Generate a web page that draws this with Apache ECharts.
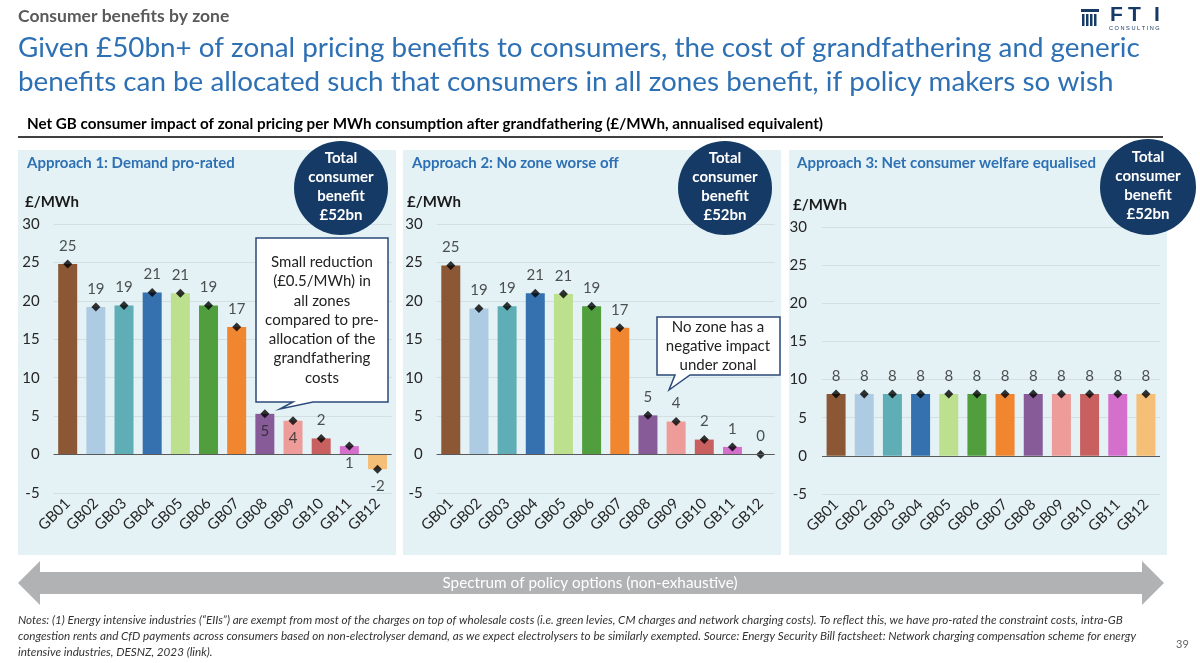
<!DOCTYPE html>
<html>
<head>
    <meta charset="utf-8">
    <title>Consumer benefits by zone</title>
    <script type="text/javascript" src="https://cdn.jsdelivr.net/npm/echarts@6/dist/echarts.min.js"></script>
    <style>
        html, body { margin: 0; padding: 0; background: #fff; }
        #main { width: 1200px; height: 663px; }
    </style>
</head>
<body>
<div id="main"></div>
<script type="text/javascript">
// zones and values (£/MWh)
var zones = ['GB01', 'GB02', 'GB03', 'GB04', 'GB05', 'GB06', 'GB07', 'GB08', 'GB09', 'GB10', 'GB11', 'GB12'];
var demandProRated = [24.8, 19.2, 19.4, 21.1, 21.0, 19.4, 16.6, 5.3, 4.4, 2.1, 1.1, -1.9];
var noZoneWorseOff = [24.6, 19.0, 19.3, 21.0, 20.9, 19.3, 16.5, 5.1, 4.3, 1.95, 1.0, 0.0];
var welfareEqualised = [8.1, 8.1, 8.1, 8.1, 8.1, 8.1, 8.1, 8.1, 8.1, 8.1, 8.1, 8.1];
var yTicks = { min: -5, max: 30, interval: 5 };
var panelTitles = ['Approach 1: Demand pro-rated', 'Approach 2: No zone worse off', 'Approach 3: Net consumer welfare equalised'];

var zoneColors = ['#8B5734', '#AECBE4', '#5FAEB5', '#3571AE', '#BCE08E', '#509E3D',
                  '#F08630', '#875B98', '#EE9C9A', '#C96060', '#D56FCC', '#F5BF78'];
var font = 'Lato, "Open Sans", sans-serif';
var navy = '#163A66';
var blue = '#2E70B4';

var panels = [
    { values: demandProRated, below: [7, 8, 10, 11], grid: { left: 53.6, top: 224, width: 338, height: 269 }, labelMargin: 14 },
    { values: noZoneWorseOff, below: [], grid: { left: 436.7, top: 224, width: 338, height: 269 }, labelMargin: 14 },
    { values: welfareEqualised, below: [], grid: { left: 822, top: 227, width: 338, height: 267 }, labelMargin: 15 }
];

var series = [];
panels.forEach(function (p, i) {
    series.push({
        type: 'bar',
        xAxisIndex: i,
        yAxisIndex: i,
        barWidth: 19,
        data: p.values.map(function (v, k) {
            return { value: v, itemStyle: { color: zoneColors[k] } };
        }),
        markLine: {
            silent: true,
            symbol: 'none',
            label: { show: false },
            lineStyle: { color: '#5a5a5a', width: 1, type: 'solid' },
            data: [{ yAxis: 0 }]
        }
    });
    series.push({
        type: 'scatter',
        xAxisIndex: i,
        yAxisIndex: i,
        symbol: 'diamond',
        symbolSize: 9,
        itemStyle: { color: '#000' },
        label: {
            show: true,
            position: 'top',
            distance: 6,
            fontFamily: font,
            fontSize: 15,
            color: '#262626',
            formatter: function (d) { return Math.round(d.value); }
        },
        data: p.values.map(function (v, k) {
            if (p.below.indexOf(k) >= 0) {
                return { value: v, label: { position: 'bottom', distance: 5 } };
            }
            return v;
        })
    });
});

function txt(x, y, text, style) {
    return { type: 'text', x: x, y: y, silent: true, style: Object.assign({ text: text, fontFamily: font }, style) };
}

var graphics = [];
// panel backgrounds
[18, 403, 789].forEach(function (x) {
    graphics.push({ type: 'rect', shape: { x: x, y: 150, width: 378, height: 405 }, style: { fill: '#E4F2F5' }, z: -10, silent: true });
});
// headings
graphics.push(txt(18, 7, 'Consumer benefits by zone', { fontSize: 17.5, fontWeight: 'bold', fill: '#5a5a5a' }));
graphics.push(txt(18, 31, 'Given £50bn+ of zonal pricing benefits to consumers, the cost of grandfathering and generic\nbenefits can be allocated such that consumers in all zones benefit, if policy makers so wish',
    { fontSize: 27.8, fill: blue, lineHeight: 34 }));
graphics.push(txt(27, 117, 'Net GB consumer impact of zonal pricing per MWh consumption after grandfathering (£/MWh, annualised equivalent)',
    { fontSize: 15.2, fontWeight: 'bold', fill: '#000' }));
graphics.push({ type: 'line', shape: { x1: 18, y1: 137, x2: 1163, y2: 137 }, style: { stroke: '#000', lineWidth: 1.5 }, silent: true });

// logo
var logoFont = 'Liberation Sans, Arial, sans-serif';
graphics.push({ type: 'rect', shape: { x: 1081, y: 9, width: 18, height: 3 }, style: { fill: navy }, silent: true });
[1082, 1086, 1090, 1094].forEach(function (x) {
    graphics.push({ type: 'rect', shape: { x: x, y: 14, width: 2.5, height: 12 }, style: { fill: navy }, silent: true });
});
graphics.push(txt(1110, 5, 'F', { fontSize: 21, fontWeight: 'bold', fill: navy, fontFamily: logoFont }));
graphics.push(txt(1128, 5, 'T', { fontSize: 21, fontWeight: 'bold', fill: navy, fontFamily: logoFont }));
graphics.push(txt(1154, 5, 'I', { fontSize: 21, fontWeight: 'bold', fill: navy, fontFamily: logoFont }));
graphics.push(txt(1109, 25, 'C O N S U L T I N G', { fontSize: 5.6, fill: navy, fontFamily: logoFont }));

// panel titles, unit labels, benefit circles
var titleX = [27, 412, 797];
var unitPos = [[25, 195], [407, 195], [793, 198]];
var circles = [[341, 188, 47], [725, 188, 47], [1148, 187, 48]];
panels.forEach(function (p, i) {
    graphics.push(txt(titleX[i], 156, panelTitles[i], { fontSize: 15, fontWeight: 'bold', fill: blue }));
    graphics.push(txt(unitPos[i][0], unitPos[i][1], '£/MWh', { fontSize: 15, fontWeight: 'bold', fill: '#1a1a1a' }));
    var c = circles[i];
    graphics.push({ type: 'circle', shape: { cx: c[0], cy: c[1], r: c[2] }, style: { fill: navy }, z: 5, silent: true });
    graphics.push({ type: 'text', x: c[0], y: c[1] - 1, z: 6, silent: true,
        style: { text: 'Total\nconsumer\nbenefit\n£52bn', fontFamily: font, fontSize: 15, fontWeight: 'bold', fill: '#fff',
                 align: 'center', verticalAlign: 'middle', lineHeight: 19 } });
});

// callouts
graphics.push({ type: 'polygon', z: 5, silent: true,
    shape: { points: [[256, 238], [388, 238], [388, 402], [313, 402], [280, 409], [293, 402], [256, 402]] },
    style: { fill: '#fff', stroke: '#2B4A7A', lineWidth: 1.5 } });
graphics.push({ type: 'text', x: 322, y: 320, z: 6, silent: true,
    style: { text: 'Small reduction\n(£0.5/MWh) in\nall zones\ncompared to pre-\nallocation of the\ngrandfathering\ncosts',
             fontFamily: font, fontSize: 15, fill: '#222', align: 'center', verticalAlign: 'middle', lineHeight: 19.3 } });
graphics.push({ type: 'polygon', z: 5, silent: true,
    shape: { points: [[657, 317], [780, 317], [780, 375], [690, 375], [669, 390], [675, 375], [657, 375]] },
    style: { fill: '#fff', stroke: '#2B4A7A', lineWidth: 1.5 } });
graphics.push({ type: 'text', x: 718, y: 346, z: 6, silent: true,
    style: { text: 'No zone has a\nnegative impact\nunder zonal',
             fontFamily: font, fontSize: 15, fill: '#222', align: 'center', verticalAlign: 'middle', lineHeight: 19 } });

// spectrum arrow
graphics.push({ type: 'polygon', silent: true,
    shape: { points: [[18, 583], [40, 561], [40, 572], [1142, 572], [1142, 561], [1164, 583], [1142, 605], [1142, 594], [40, 594], [40, 605]] },
    style: { fill: '#B0B2B3' } });
graphics.push({ type: 'text', x: 590, y: 583, silent: true,
    style: { text: 'Spectrum of policy options (non-exhaustive)', fontFamily: font, fontSize: 15.3, fill: '#fff', align: 'center', verticalAlign: 'middle' } });

// notes
graphics.push(txt(18, 612,
    'Notes: (1) Energy intensive industries (“EIIs”) are exempt from most of the charges on top of wholesale costs (i.e. green levies, CM charges and network charging costs). To reflect this, we have pro-rated the constraint costs, intra-GB\n' +
    'congestion rents and CfD payments across consumers based on non-electrolyser demand, as we expect electrolysers to be similarly exempted. Source: Energy Security Bill factsheet: Network charging compensation scheme for energy\n' +
    'intensive industries, DESNZ, 2023 (link).',
    { fontSize: 11.7, fontStyle: 'italic', fill: '#333', lineHeight: 16 }));
graphics.push(txt(1176, 639, '39', { fontSize: 11, fill: '#666' }));

var option = {
    animation: false,
    grid: panels.map(function (p) { return p.grid; }),
    xAxis: panels.map(function (p, i) {
        return {
            type: 'category',
            gridIndex: i,
            data: zones,
            axisLine: { show: false, onZero: false },
            axisTick: { show: false },
            axisLabel: { interval: 0, rotate: 45, margin: 8, fontFamily: font, fontSize: 15, color: '#262626' }
        };
    }),
    yAxis: panels.map(function (p, i) {
        return {
            type: 'value',
            gridIndex: i,
            min: yTicks.min,
            max: yTicks.max,
            interval: yTicks.interval,
            axisLine: { show: false },
            axisTick: { show: false },
            axisLabel: { margin: p.labelMargin, fontFamily: font, fontSize: 15, color: '#262626' },
            splitLine: { lineStyle: { color: '#D3DFE2', width: 1 } }
        };
    }),
    series: series,
    graphic: graphics
};

echarts.init(document.getElementById('main')).setOption(option);
</script>
</body>
</html>
